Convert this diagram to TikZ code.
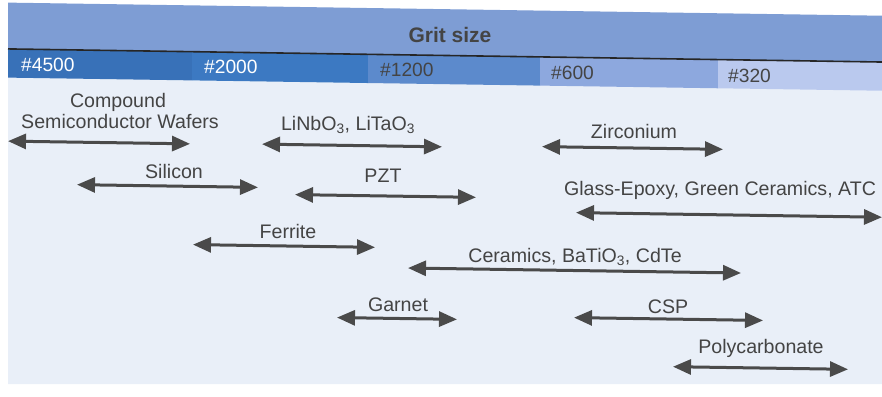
\documentclass[tikz,border=0pt]{standalone}
\usepackage{fontspec}
\setmainfont{Liberation Sans}
\usetikzlibrary{arrows.meta}
\definecolor{panelbg}{HTML}{E9EFF8}
\definecolor{headbg}{HTML}{7E9DD4}
\definecolor{bandA}{HTML}{3871B8}
\definecolor{bandB}{HTML}{3C79C2}
\definecolor{bandC}{HTML}{5C8ACC}
\definecolor{bandD}{HTML}{8DA8DE}
\definecolor{bandE}{HTML}{BAC9EE}
\definecolor{txtgrey}{HTML}{444444}
\definecolor{arrgrey}{HTML}{4A4A4A}
\begin{document}
\begin{tikzpicture}[x=1pt,y=-1pt,
  lbl/.style={font=\fontsize{19.6}{21}\selectfont, text=txtgrey, inner sep=0pt, anchor=base},
  bandlbl/.style={font=\fontsize{19.2}{21}\selectfont, inner sep=0pt, anchor=base west},
  dblarrow/.style={draw=arrgrey, line width=3pt,
     {Triangle[length=18pt,width=15pt]}-{Triangle[length=18pt,width=15pt]}}]
\useasboundingbox (0,0) rectangle (882,396);
% light panel
\fill[panelbg] (8,3) -- (882,16) -- (882,384) -- (8,384) -- cycle;
\begin{scope}[yslant=-0.015]
  % header
  \fill[headbg] (8,2.5) rectangle (882,48.8);
  \node[font=\bfseries\fontsize{21}{23}\selectfont, text=txtgrey, inner sep=0pt, anchor=base] (grit) at (450,35.7) {Grit size};
  % grit bands
  \fill[bandA] (8,48.8) rectangle (192,77.5);
  \fill[bandB] (192,48.8) rectangle (368,77.5);
  \fill[bandC] (368,48.8) rectangle (540,77.5);
  \fill[bandD] (540,48.8) rectangle (718,77.5);
  \fill[bandE] (718,48.8) rectangle (882,77.5);
  \draw[line width=1.6pt, black!85] (8,48.8) -- (882,48.8);
  \node[bandlbl, text=white] (g4500) at (21,70.8) {\#4500};
  \node[bandlbl, text=white] (g2000) at (204,70.5) {\#2000};
  \node[bandlbl, text=txtgrey] (g1200) at (380,71) {\#1200};
  \node[bandlbl, text=txtgrey] (g600) at (551,71) {\#600};
  \node[bandlbl, text=txtgrey] (g320) at (728,71.5) {\#320};
  % labels
  \node[lbl] (t1a) at (118,106.2) {Compound};
  \node[lbl] (t1b) at (120,126.2) {Semiconductor Wafers};
  \node[lbl] (t2) at (348,124.8) {LiNbO\textsubscript{3}, LiTaO\textsubscript{3}};
  \node[lbl] (t3) at (634,128.5) {Zirconium};
  \node[lbl] (t4) at (174,175.4) {Silicon};
  \node[lbl] (t5) at (383,176.3) {PZT};
  \node[lbl] (t6) at (720,184.2) {Glass-Epoxy, Green Ceramics, ATC};
  \node[lbl] (t7) at (288,233.7) {Ferrite};
  \node[lbl] (t8) at (575,253.4) {Ceramics, BaTiO\textsubscript{3}, CdTe};
  \node[lbl] (t9) at (398,306) {Garnet};
  \node[lbl] (t10) at (668,303) {CSP};
  \node[lbl] (t11) at (761,341.6) {Polycarbonate};
  % arrow end points
  \coordinate (a1l) at (8,141);    \coordinate (a1r) at (190,141);
  \coordinate (a2l) at (262,140.2); \coordinate (a2r) at (442,140.2);
  \coordinate (a3l) at (542,138.5); \coordinate (a3r) at (723,138.5);
  \coordinate (a4l) at (77,183.5);  \coordinate (a4r) at (258,183.5);
  \coordinate (a5l) at (295,190.2); \coordinate (a5r) at (476,190.2);
  \coordinate (a6l) at (576,204);   \coordinate (a6r) at (882,204);
  \coordinate (a7l) at (193,241.7); \coordinate (a7r) at (375,241.7);
  \coordinate (a8l) at (408,261.9); \coordinate (a8r) at (741,261.9);
  \coordinate (a9l) at (337,312.5); \coordinate (a9r) at (457,312.5);
  \coordinate (a10l) at (574,309);  \coordinate (a10r) at (763,309);
  \coordinate (a11l) at (673,356.6); \coordinate (a11r) at (848,356.6);
  \foreach \i in {1,...,11} {\draw[dblarrow] (a\i l) -- (a\i r);}
\end{scope}
\end{tikzpicture}
\end{document}
